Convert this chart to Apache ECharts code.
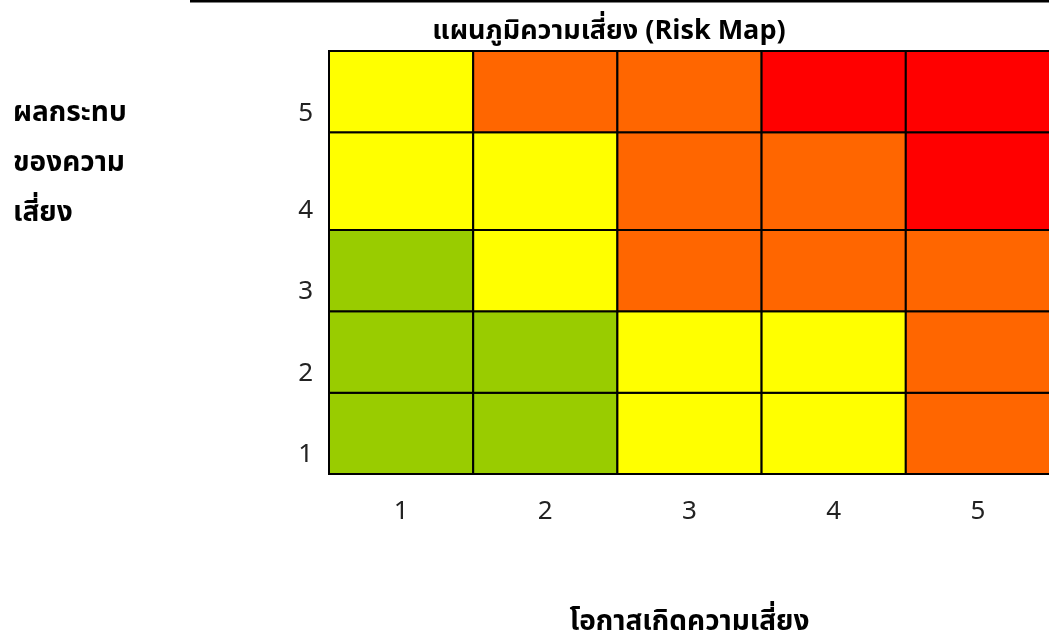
<!DOCTYPE html>
<html>
<head>
<meta charset="utf-8">
<script src="https://cdn.jsdelivr.net/npm/echarts@6/dist/echarts.min.js"></script>
<style>
  html, body { margin: 0; padding: 0; background: #fff; }
  #main { width: 1049px; height: 642px; }
</style>
</head>
<body>
<div id="main"></div>
<script>
// likelihood (x) and impact (y) levels
var likelihood = ['1', '2', '3', '4', '5'];
var impact = ['1', '2', '3', '4', '5'];

// risk level per cell: 1 = low, 2 = medium, 3 = high, 4 = very high
// one array per impact row, left to right along likelihood
var impact1 = [1, 1, 2, 2, 3];
var impact2 = [1, 1, 2, 2, 3];
var impact3 = [1, 2, 3, 3, 3];
var impact4 = [2, 2, 3, 3, 4];
var impact5 = [2, 3, 3, 4, 4];

var rows = [impact1, impact2, impact3, impact4, impact5];
var levelColors = { 1: '#99cc00', 2: '#ffff00', 3: '#ff6600', 4: '#ff0000' };

// row boundaries on the impact scale (row 4 is drawn taller, like the sheet)
var rowEdges = [0, 1, 2, 3, 4.2, 5.2];

var data = [];
rows.forEach(function (row, r) {
    row.forEach(function (level, c) {
        data.push([c, r, level]);
    });
});

var font = "'Noto Sans Thai', 'Noto Sans', Tahoma, sans-serif";

var myChart = echarts.init(document.getElementById('main'));

myChart.setOption({
    animation: false,
    textStyle: { fontFamily: font },
    title: [
        {
            text: 'แผนภูมิความเสี่ยง (Risk Map)',
            left: 604,
            textAlign: 'center',
            top: 15,
            textStyle: { fontSize: 27, fontWeight: 'bold', color: '#000', fontFamily: font }
        },
        {
            text: 'ผลกระทบ\nของความ\nเสี่ยง',
            left: 8,
            top: 85,
            textStyle: { fontSize: 28, fontWeight: 'bold', color: '#000', lineHeight: 50, fontFamily: font }
        }
    ],
    graphic: [
        {
            type: 'line',
            shape: { x1: 190, y1: 1, x2: 1049, y2: 1 },
            style: { stroke: '#000', lineWidth: 3 }
        }
    ],
    grid: {
        left: 329,
        right: -1,
        top: 51,
        bottom: 168,
        outerBoundsMode: 'none'
    },
    xAxis: {
        type: 'category',
        data: likelihood,
        name: 'โอกาสเกิดความเสี่ยง',
        nameLocation: 'middle',
        nameGap: 136,
        nameTextStyle: { fontSize: 28, fontWeight: 'bold', color: '#000', fontFamily: font },
        axisLine: { show: false },
        axisTick: { show: false },
        splitLine: { show: false },
        axisLabel: { fontSize: 26, color: '#222', margin: 27 }
    },
    yAxis: {
        type: 'value',
        min: 0,
        max: 5.2,
        axisLine: { show: false },
        axisTick: { show: false },
        splitLine: { show: false },
        axisLabel: {
            fontSize: 26,
            color: '#222',
            margin: 16,
            customValues: [0.21, 1.21, 2.21, 3.21, 4.41],
            formatter: function (v) {
                return impact[Math.floor(v)];
            }
        }
    },
    series: [
        {
            type: 'custom',
            data: data,
            encode: { x: 0, y: 1 },
            renderItem: function (params, api) {
                var c = api.value(0);
                var r = api.value(1);
                var w = api.size([1, 0])[0];
                var center = api.coord([c, rowEdges[r]]);
                var top = api.coord([c, rowEdges[r + 1]])[1];
                return {
                    type: 'rect',
                    shape: {
                        x: center[0] - w / 2,
                        y: top,
                        width: w,
                        height: center[1] - top
                    },
                    style: {
                        fill: levelColors[api.value(2)],
                        stroke: '#000',
                        lineWidth: 2
                    }
                };
            }
        }
    ]
});
</script>
</body>
</html>
